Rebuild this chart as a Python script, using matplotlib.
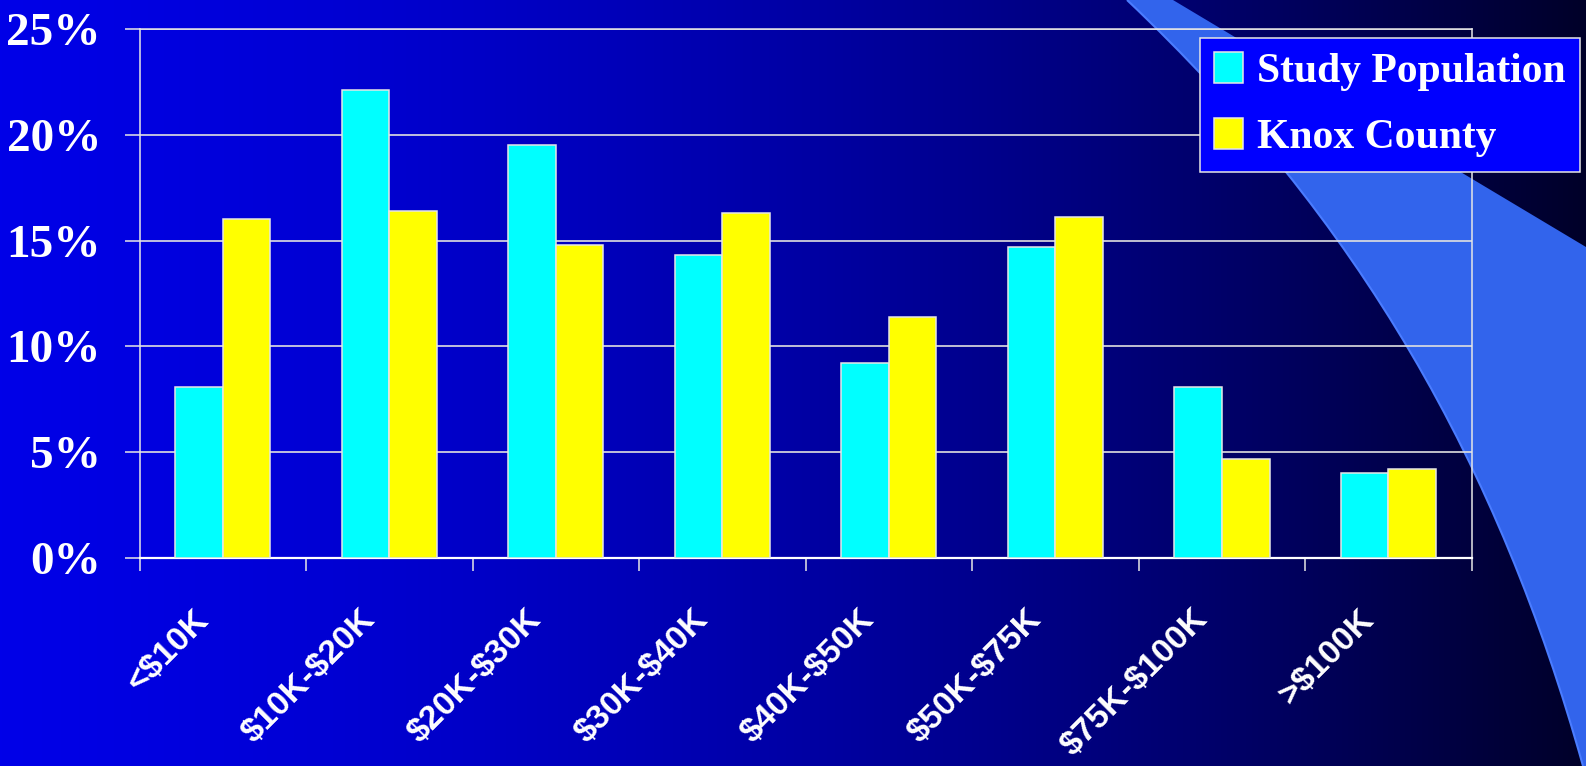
import numpy as np
import matplotlib
matplotlib.use("Agg")
import matplotlib.pyplot as plt
from matplotlib.path import Path
from matplotlib.patches import PathPatch
from matplotlib.transforms import ScaledTranslation

# Dollar signs in the labels are literal, not math delimiters
plt.rcParams["text.parse_math"] = False

# Household income distribution
categories = ["<$10K", "$10K-$20K", "$20K-$30K", "$30K-$40K",
              "$40K-$50K", "$50K-$75K", "$75K-$100K", ">$100K"]
study_population = [8.1, 22.1, 19.5, 14.3, 9.2, 14.7, 8.1, 4.0]
knox_county = [16.0, 16.4, 14.8, 16.3, 11.4, 16.1, 4.7, 4.2]
series_names = ["Study Population", "Knox County"]
y_ticks = [0, 5, 10, 15, 20, 25]
y_tick_labels = ["0%", "5%", "10%", "15%", "20%", "25%"]

W, H, DPI = 1586, 766, 100
fig = plt.figure(figsize=(W / DPI, H / DPI), dpi=DPI)

# ---- slide background: horizontal blue gradient with a light swoosh ----
bg = fig.add_axes([0, 0, 1, 1], zorder=0)
bg.set_xlim(0, W)
bg.set_ylim(H, 0)
bg.axis("off")
gx = np.linspace(0, 1, 600)[None, :].repeat(20, axis=0)
blue = 0.91 - 0.30 * gx - 0.45 * gx ** 2
img = np.dstack([np.zeros_like(blue), np.zeros_like(blue), blue])
bg.imshow(img, extent=(0, W, H, 0), aspect="auto", interpolation="bilinear")

verts = [(1127, 0), (1360, 220), (1499, 466), (1583, 766),
         (W + 5, H + 5), (W + 5, 250), (1173, 0), (1127, 0)]
codes = [Path.MOVETO, Path.CURVE4, Path.CURVE4, Path.CURVE4,
         Path.LINETO, Path.LINETO, Path.LINETO, Path.CLOSEPOLY]
bg.add_patch(PathPatch(Path(verts, codes), facecolor="#3264EC",
                       edgecolor="none"))
edge = Path(verts[:4], codes[:4])
bg.add_patch(PathPatch(edge, facecolor="none", edgecolor="#4A7CFF",
                       linewidth=1.5))

# ---- chart ----
ax = fig.add_axes([139.5 / W, 1 - 558 / H, (1471.7 - 139.5) / W,
                   (558 - 29) / H], zorder=1)
ax.patch.set_alpha(0)

x = np.arange(len(categories))
bw = 0.286
edge_kw = dict(edgecolor="#E6E6E6", linewidth=1.1, zorder=3)
ax.bar(x - bw / 2, study_population, bw, color="#00FFFF",
       label=series_names[0], **edge_kw)
ax.bar(x + bw / 2, knox_county, bw, color="#FFFF00",
       label=series_names[1], **edge_kw)

ax.set_xlim(-0.5, len(categories) - 0.5)
ax.set_ylim(0, 25)

ax.set_yticks(y_ticks)
ax.set_yticklabels(y_tick_labels, family="Liberation Serif",
                   fontweight="bold", fontsize=34, color="white")
ax.tick_params(axis="y", direction="out", length=10.8, width=1.1,
               color="#E6E6E6", pad=17)
ax.yaxis.grid(True, color="#E0E0E0", linewidth=1.2)
ax.set_axisbelow(True)

ax.set_xticks(x)
ax.set_xticklabels(categories, family="Liberation Sans", fontweight="bold",
                   fontsize=24.5, color="white", rotation=45, ha="right",
                   va="top")
ax.tick_params(axis="x", which="major", length=0, pad=33)
ax.set_xticks(np.arange(len(categories) + 1) - 0.5, minor=True)
ax.tick_params(axis="x", which="minor", direction="out", length=9.5,
               width=1.1, color="#E6E6E6")
shift = ScaledTranslation(-0.08, 0, fig.dpi_scale_trans)
for lbl in ax.get_xticklabels():
    lbl.set_transform(lbl.get_transform() + shift)

for side in ["left", "right", "top"]:
    ax.spines[side].set_color("#E6E6E6")
    ax.spines[side].set_linewidth(1.1)
ax.spines["bottom"].set_color("white")
ax.spines["bottom"].set_linewidth(1.6)

leg = fig.legend(loc="upper right", bbox_to_anchor=(1580 / W, 1 - 37.7 / H),
                 bbox_transform=fig.transFigure, borderaxespad=0,
                 prop=dict(family="Liberation Serif", weight="bold", size=30),
                 fancybox=False, framealpha=1, handlelength=0.68,
                 handleheight=0.75, handletextpad=0.34, borderpad=0.35,
                 labelspacing=0.65, labelcolor="white")
leg.get_frame().set_facecolor("#0000FF")
leg.get_frame().set_edgecolor("#E6E6E6")
leg.get_frame().set_linewidth(1.1)
leg.set_zorder(5)

fig.savefig("out.png", dpi=DPI)
